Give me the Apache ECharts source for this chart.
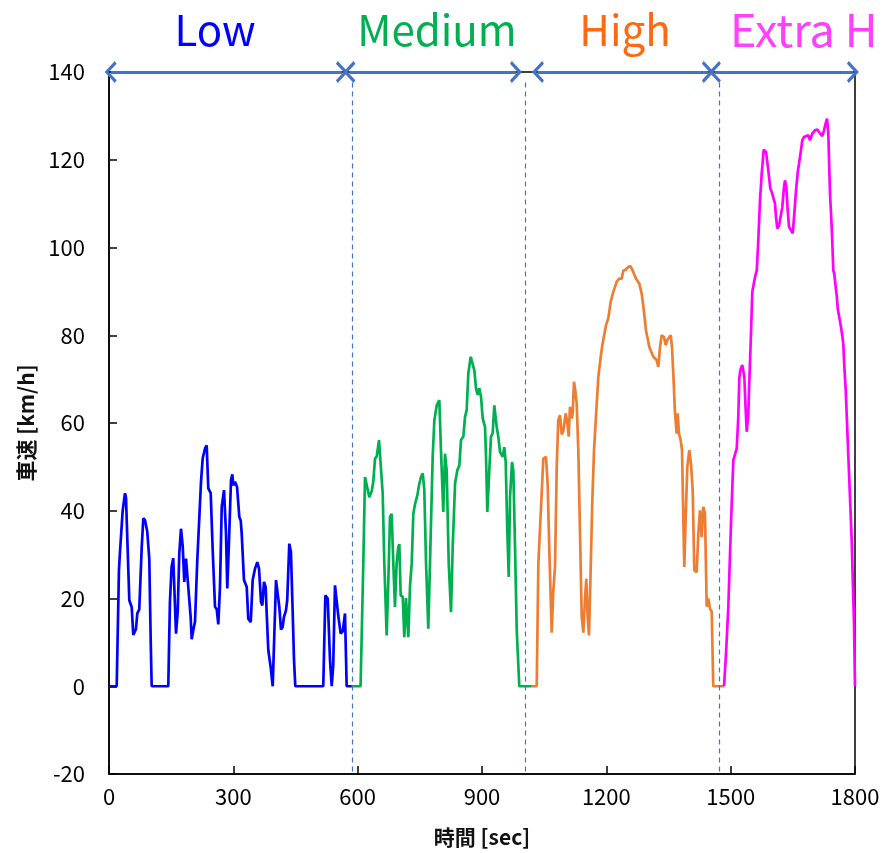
<!DOCTYPE html>
<html>
<head>
<meta charset="utf-8">
<script src="https://cdn.jsdelivr.net/npm/echarts@6/dist/echarts.min.js"></script>
<style>
  html, body { margin: 0; padding: 0; background: #fff; }
  #main { width: 887px; height: 853px; }
</style>
</head>
<body>
<div id="main"></div>
<script>
// [time s, speed km/h], one list per phase
const lowData = [[0,0],[18.6,0],[24,26.4],[26.5,30.6],[30.6,30.6],[33,40],[38.6,44],[41,43],[49,19.6],[54.8,18],[58.6,11.7],[65,13],[68.3,16.6],[73,17.5],[79,31.8],[82.8,38.3],[87,37.8],[92.4,35.2],[97.2,29],[100.6,10.5],[103,0],[143,0],[147,19.2],[151,27.2],[155,29.2],[161.7,12],[165.8,17],[169.6,30.3],[173.7,35.9],[177.8,32],[181.7,23.8],[185.8,29.1],[189,28.7],[193.8,19.6],[197,15.8],[199.5,10.7],[203.4,12.8],[207.5,14.7],[213,28.7],[218,38.6],[222,46.6],[226,51.9],[231.6,54.2],[235.7,54.9],[239.6,45.1],[245.4,44],[250.2,31],[255.8,18.1],[260,17.5],[263.7,14.1],[267.8,22.6],[272,40.9],[277.5,44.7],[282.3,34.9],[285.4,22.3],[289.5,33],[294.4,47],[297.5,48.3],[300,45.8],[304,46.6],[309,45.4],[314.4,38.6],[317.8,37.8],[320.2,34.8],[325.7,24.2],[332.3,22.6],[336,15.4],[342,14.6],[346.7,24.2],[352.3,26.8],[357.8,28.3],[362,26.8],[366.8,19.2],[370,18.4],[374,23.8],[378,22.6],[380.5,16.6],[384.4,8.2],[390,4.4],[395,0],[398,0],[403,24.2],[406,24.6],[411,18],[415,12.9],[419,13.5],[422,15.7],[427,17.3],[430,19.6],[435,32.5],[439,30.6],[443.3,16.6],[446.4,6],[449.5,0],[517,0],[522,20.7],[527.7,20],[533.3,5.9],[537.4,0],[541,4.7],[545.3,23],[549.4,23],[553.3,16],[559,12],[564,12.5],[569.4,16.6],[573.5,0],[586,0]];

const mediumData = [[586,0],[607,0],[613.6,28],[617.7,47.7],[621.8,47.7],[628,43.1],[634,44.5],[637.7,46.6],[641.8,51.9],[646,52.4],[651.5,56.1],[655.6,56.1],[660.4,43.9],[664.3,28],[670,11.6],[674,24],[678,38.6],[682,39.3],[686,28],[690,18.1],[694,28],[698,31.7],[700.5,32.4],[703.8,20.7],[708.7,20.4],[712.5,11.2],[716.6,20.1],[722.2,11.2],[726.3,22.8],[730.4,28],[734.3,39.3],[738.4,41.5],[744,43.5],[748,45.8],[752.8,47.7],[757,48.5],[760.8,44.8],[765,28],[770.4,13.1],[774.5,28],[781,52.3],[785,60.6],[790.7,64],[797,65.2],[801,53.8],[806.6,39.7],[810.7,53],[814.8,49.2],[819.7,28],[825.2,16.9],[829.3,31.7],[835,46.2],[840.4,49.2],[845.3,50.3],[849.3,56.1],[855,56.9],[859,61.4],[863,62.9],[867,71.3],[872.8,75.1],[877.6,74.7],[881.5,72],[885.6,67.9],[889.6,66.4],[893.5,67.9],[897.6,66],[901.7,61],[907.3,59.1],[909.7,52.3],[912.8,39.7],[917.6,49.2],[921.7,56.9],[925.8,57.7],[929.7,64],[935.5,59.1],[939.3,56.9],[943.4,53.4],[950,52.3],[953.8,54.5],[957.2,51.1],[961,35.6],[964.5,24.9],[967.6,43.1],[972.4,51.1],[975.6,49.2],[979.7,31.7],[983.8,12.8],[990,0],[1020,0]];

const highData = [[1020,0],[1032,0],[1036,28],[1040,36],[1044,43.9],[1048,51.9],[1054.4,52.3],[1058.5,46],[1062.4,31],[1068.2,12.2],[1072,21.7],[1076.2,27.2],[1080.3,50],[1084,60.6],[1088.2,61.8],[1092.3,57.4],[1096.2,58.2],[1102,62.2],[1106.8,59.5],[1109.2,56.9],[1112.3,63.7],[1116.4,61],[1118.8,62.2],[1122,69.4],[1124.4,67.9],[1128.5,64.4],[1132.4,53.8],[1136.5,34.8],[1140.6,15.8],[1144.5,12.2],[1148.5,20],[1151.7,24.5],[1155,15.8],[1158.2,11.6],[1161.3,23.2],[1166.2,42.4],[1170.3,53.8],[1175,61.4],[1180.7,70.5],[1186.5,75.1],[1190.3,77.7],[1194.4,78.1],[1199.2,82.3],[1204.8,83.9],[1210.5,87.6],[1216.8,89.9],[1225,92.2],[1231.3,92.9],[1237,92.9],[1241,94.7],[1247.4,95],[1253,95.6],[1258.8,95.7],[1265,94.4],[1271.6,92.9],[1279.5,91.8],[1285.3,89.5],[1291,85.3],[1295.7,81.1],[1299,79.6],[1303.7,77.3],[1307.8,77],[1313.4,75.1],[1317.5,75.1],[1321.6,74.3],[1325.4,72.8],[1329.5,77.3],[1333.6,80],[1339.2,79.6],[1343.3,77.7],[1347.1,78.9],[1351.2,79.2],[1355.3,80],[1358.4,77.3],[1361.6,71.3],[1365.7,62.2],[1369.8,57.6],[1372.2,62.2],[1375.3,57.6],[1379.4,56.1],[1382.6,53.8],[1385.7,38.6],[1388.1,27.2],[1391.5,38.6],[1395.4,50],[1400.2,53.8],[1404.3,50.7],[1408.4,44.7],[1412.3,26.4],[1418,26],[1422,34.8],[1426,40.1],[1430,34],[1434,40.9],[1438,39.3],[1442.2,18.1],[1446,20],[1450,17.7],[1454.3,17],[1458,0],[1484,0]];

const extraHighData = [[1484,0],[1488.8,7.5],[1494.3,18],[1500.8,37.1],[1506.4,51.5],[1514.6,54.2],[1518.4,61.4],[1520.8,70.1],[1523.2,72],[1528,73.2],[1533,70.5],[1535.3,65],[1538.7,58],[1542.6,62],[1544.3,67.5],[1549,80.4],[1552.2,89.9],[1555.6,90.3],[1558.8,93.3],[1563,94.8],[1566.7,101.7],[1570.8,110.8],[1575,116.9],[1579.8,122.3],[1585.3,121.8],[1590.8,117.6],[1595.7,113.4],[1599,112.7],[1603,112.3],[1607,110],[1609.4,107],[1612.5,104.3],[1616.7,105],[1620.7,105.4],[1624.6,109.2],[1628.7,113.8],[1631.1,115.3],[1634.3,113.8],[1637.6,108.5],[1640.8,104.7],[1645.6,104.3],[1649.7,103.2],[1653.6,107.7],[1657.7,113],[1661.8,117.2],[1667.3,120.6],[1672.8,124.4],[1677,125.2],[1681.8,125.6],[1687.3,125.6],[1691.4,124.4],[1697,126],[1703.5,126.7],[1709,126.9],[1715.6,126],[1721,125.4],[1725.2,126.7],[1730,128.6],[1732.5,129.4],[1735.6,126],[1739.7,112.3],[1743.8,104.7],[1747.7,94.8],[1750,94],[1756.2,88.7],[1758.3,86.1],[1761.4,85.7],[1766.2,81.9],[1771.8,78.1],[1774.2,73],[1777.6,67.5],[1784,52.3],[1792,33.3],[1797.6,14.3],[1800,0]];

const phaseNames = ['Low', 'Medium', 'High', 'Extra H'];
const phaseColors = ['#0000ff', '#00b050', '#ed7d31', '#ff00ff'];
const phaseTextColors = ['#0000ff', '#00b050', '#ff6a10', '#ff40ff'];
const phaseBounds = [586, 1004, 1472];          // dashed dividers (s)
const arrowSpans = [[4, 562], [580, 982], [1035, 1445], [1462, 1795]];

const xTicks = { min: 0, max: 1800, interval: 300 };
const yTicks = { min: -20, max: 140, interval: 20 };

const chart = echarts.init(document.getElementById('main'));

const chevron = 'path://M10,0 L20,11 L17.6,13 L10,4.6 L2.4,13 L0,11 Z';
const font = '"Noto Sans CJK JP", "Noto Sans", sans-serif';

const lines = [lowData, mediumData, highData, extraHighData].map((d, i) => ({
  name: phaseNames[i],
  type: 'line',
  data: d,
  showSymbol: false,
  symbol: 'none',
  lineStyle: { color: phaseColors[i], width: 2.7 },
  z: 3
}));

// dividers and phase arrows live on a data-less helper series
lines.push({
  type: 'line',
  data: [],
  clip: false,
  silent: true,
  markLine: {
    silent: true,
    symbol: 'none',
    label: { show: false },
    animation: false,
    data: phaseBounds.map(t => [
      { coord: [t, 137.6], lineStyle: { color: '#4472c4', type: [5, 4], width: 1.2 } },
      { coord: [t, -20] }
    ]).concat(arrowSpans.map(s => [
      { coord: [s[0], 140], symbol: chevron, lineStyle: { color: '#4472c4', type: 'solid', width: 3 } },
      { coord: [s[1], 140], symbol: chevron }
    ])),
    symbolSize: [22, 12],
    itemStyle: { color: '#4472c4' }
  },
  z: 4
});

const centers = [215, 437, 625, 730];
const graphics = phaseNames.map((n, i) => ({
  type: 'text',
  x: centers[i],
  y: 30,
  style: {
    text: n,
    fill: phaseTextColors[i],
    font: (i === 3 ? '45px ' : '42px ') + font,
    textAlign: i === 3 ? 'left' : 'center',
    textVerticalAlign: 'middle'
  }
}));

chart.setOption({
  animation: false,
  backgroundColor: '#fff',
  grid: {
    left: 109, right: 32, top: 72, bottom: 79,
    show: true, borderColor: '#000', borderWidth: 1.5
  },
  graphic: graphics,
  xAxis: {
    type: 'value',
    min: xTicks.min, max: xTicks.max, interval: xTicks.interval,
    name: '時間 [sec]',
    nameLocation: 'middle',
    nameGap: 53,
    nameTextStyle: { fontSize: 21, fontWeight: 'bold', color: '#111', fontFamily: font },
    axisLine: { onZero: false, lineStyle: { color: '#000', width: 1.5 } },
    axisTick: { inside: true, length: 8, lineStyle: { color: '#000', width: 1.5 } },
    axisLabel: { fontSize: 22, color: '#000', margin: 12, fontFamily: font, formatter: v => String(v) },
    splitLine: { show: false }
  },
  yAxis: {
    type: 'value',
    min: yTicks.min, max: yTicks.max, interval: yTicks.interval,
    name: '車速 [km/h]',
    nameLocation: 'middle',
    nameGap: 72,
    nameRotate: 90,
    nameTextStyle: { fontSize: 21, fontWeight: 'bold', color: '#111', fontFamily: font },
    axisLine: { onZero: false, lineStyle: { color: '#000', width: 1.5 } },
    axisTick: { inside: true, length: 8, lineStyle: { color: '#000', width: 1.5 } },
    axisLabel: { fontSize: 22, color: '#000', margin: 24, fontFamily: font, formatter: v => String(v) },
    splitLine: { show: false }
  },
  series: lines
});
</script>
</body>
</html>
